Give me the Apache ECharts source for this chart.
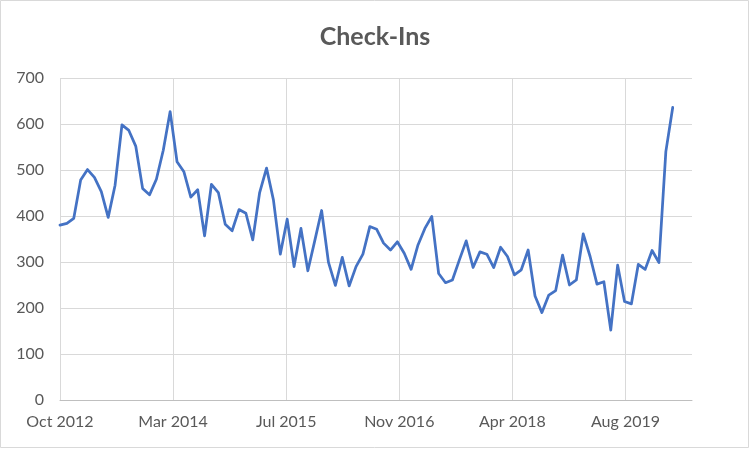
<!DOCTYPE html>
<html>
<head>
<meta charset="utf-8">
<script src="https://cdn.jsdelivr.net/npm/echarts@6/dist/echarts.min.js"></script>
<style>
html,body{margin:0;padding:0;background:#fff;}
#chart{width:750px;height:449px;}
</style>
</head>
<body>
<div id="chart"></div>
<script>
// Chart title
const chartTitle = 'Check-Ins';
// Tick labels on the date axis (one every ~500 days, starting Oct 2012)
const xTickLabels = ['Oct 2012', 'Mar 2014', 'Jul 2015', 'Nov 2016', 'Apr 2018', 'Aug 2019'];
// Monthly check-in counts, starting Oct 2012
const checkIns = [
  380, 384, 395, 478, 501, 484, 453, 397, 467, 598,
  586, 552, 460, 446, 480, 543, 627, 518, 496, 441,
  457, 357, 469, 451, 382, 368, 414, 406, 348, 451,
  504, 435, 317, 393, 290, 373, 281, 346, 412, 299,
  249, 310, 248, 290, 317, 377, 371, 341, 326, 344,
  319, 284, 337, 373, 399, 275, 255, 261, 304, 346,
  288, 322, 317, 288, 332, 312, 272, 283, 326, 226,
  190, 228, 238, 315, 250, 261, 361, 312, 252, 257,
  152, 293, 214, 209, 295, 284, 325, 299, 540, 636
];
// Y-axis ticks
const yTicks = [0, 100, 200, 300, 400, 500, 600, 700];

const monthsPerMajor = 500 / 30.4375; // 500-day major unit in months
const xMaxMonths = 91.8;
const seriesData = checkIns.map((v, i) => [i, v]);

const font = 'Lato, "Open Sans", "Liberation Sans", sans-serif';
const chart = echarts.init(document.getElementById('chart'), null, {renderer: 'canvas'});
chart.setOption({
  animation: false,
  backgroundColor: '#ffffff',
  title: {
    text: chartTitle,
    left: 'center',
    top: 19,
    textStyle: {fontFamily: font, fontSize: 25, fontWeight: 'bold', color: '#595959'}
  },
  graphic: [{
    type: 'rect',
    shape: {x: 0.5, y: 0.5, width: 748, height: 447},
    style: {fill: 'none', stroke: '#d9d9d9', lineWidth: 1},
    silent: true
  }],
  grid: {left: 60, right: 58, top: 78, bottom: 49, containLabel: false},
  xAxis: {
    type: 'value',
    min: 0,
    max: xMaxMonths,
    interval: monthsPerMajor,
    axisLine: {show: true, lineStyle: {color: '#bfbfbf', width: 1}},
    axisTick: {show: false},
    splitLine: {show: true, showMaxLine: false, lineStyle: {color: '#d9d9d9', width: 1}},
    axisLabel: {
      fontFamily: font, fontSize: 16, color: '#595959', margin: 14,
      showMaxLabel: false,
      formatter: function (v) {
        const k = Math.round(v / monthsPerMajor);
        return (Math.abs(v - k * monthsPerMajor) < 0.01 && xTickLabels[k]) ? xTickLabels[k] : '';
      }
    }
  },
  yAxis: {
    type: 'value',
    min: yTicks[0],
    max: yTicks[yTicks.length - 1],
    interval: 100,
    axisLine: {show: false},
    axisTick: {show: false},
    splitLine: {show: true, lineStyle: {color: '#d9d9d9', width: 1}},
    axisLabel: {fontFamily: font, fontSize: 16, color: '#595959', margin: 16}
  },
  series: [{
    type: 'line',
    name: chartTitle,
    data: seriesData,
    showSymbol: false,
    symbol: 'none',
    lineStyle: {color: '#4472C4', width: 2.75, join: 'round', cap: 'round'},
    itemStyle: {color: '#4472C4'}
  }]
});
</script>
</body>
</html>
